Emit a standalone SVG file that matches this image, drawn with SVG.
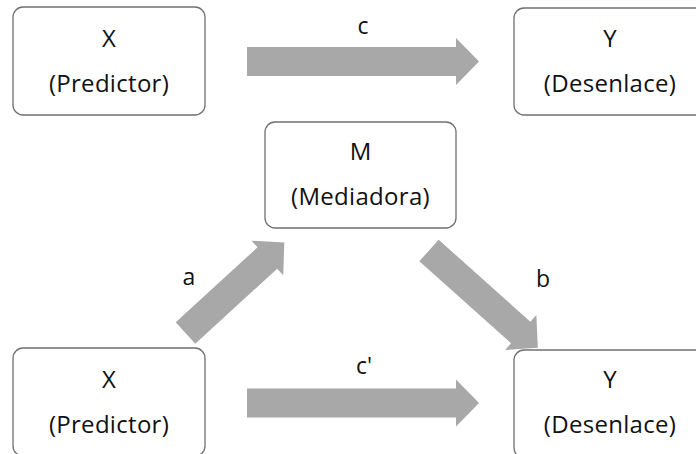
<svg xmlns="http://www.w3.org/2000/svg" width="696" height="454" viewBox="0 0 696 454">
  <defs>
    <style>
      .box { fill: #ffffff; stroke: #707070; stroke-width: 1.3; }
      .lbl { font-family: "Open Sans", "Noto Sans", "Liberation Sans", sans-serif; font-size: 24px; fill: #111111; text-anchor: middle; }
      .sub { letter-spacing: 0.3px; }
      .edge { font-size: 23px; }
      .arrow { fill: #a8a8a8; }
    </style>
  </defs>
  <rect width="696" height="454" fill="#ffffff"/>

  <!-- block arrows -->
  <g id="connectors">
    <!-- c: X -> Y (total effect) -->
    <path class="arrow" transform="translate(247,61.5)" d="M0,-14.5 H209 V-23.5 L232,0 L209,23.5 V14.5 H0 Z"/>
    <!-- c': X -> Y (direct effect) -->
    <path class="arrow" transform="translate(247,403)" d="M0,-14.5 H209 V-23.5 L232,0 L209,23.5 V14.5 H0 Z"/>
    <!-- a: X -> M -->
    <path class="arrow" transform="translate(185.5,333) rotate(-42.5)" d="M0,-14.5 H111 V-23.5 L134,0 L111,23.5 V14.5 H0 Z"/>
    <!-- b: M -> Y -->
    <path class="arrow" transform="translate(429,250.5) rotate(41.8)" d="M0,-14.5 H123 V-23.5 L146,0 L123,23.5 V14.5 H0 Z"/>
    <text class="lbl edge" x="363" y="34">c</text>
    <text class="lbl edge" x="364" y="374">c'</text>
    <text class="lbl edge" x="189" y="285">a</text>
    <text class="lbl edge" x="543" y="287">b</text>
  </g>

  <g id="x-top">
    <rect class="box" x="13" y="7" width="192" height="108" rx="10"/>
    <text class="lbl" x="109" y="47">X</text>
    <text class="lbl sub" x="109" y="92">(Predictor)</text>
  </g>

  <g id="y-top">
    <rect class="box" x="514" y="8" width="192" height="107" rx="10"/>
    <text class="lbl" x="610" y="47">Y</text>
    <text class="lbl sub" x="610" y="92">(Desenlace)</text>
  </g>

  <g id="m-mid">
    <rect class="box" x="265" y="122" width="191" height="106" rx="10"/>
    <text class="lbl" x="360.5" y="160">M</text>
    <text class="lbl sub" x="360.5" y="205">(Mediadora)</text>
  </g>

  <g id="x-bottom">
    <rect class="box" x="13" y="348" width="192" height="108" rx="10"/>
    <text class="lbl" x="109" y="388">X</text>
    <text class="lbl sub" x="109" y="433">(Predictor)</text>
  </g>

  <g id="y-bottom">
    <rect class="box" x="514" y="350" width="192" height="108" rx="10"/>
    <text class="lbl" x="610" y="388">Y</text>
    <text class="lbl sub" x="610" y="433">(Desenlace)</text>
  </g>
</svg>
